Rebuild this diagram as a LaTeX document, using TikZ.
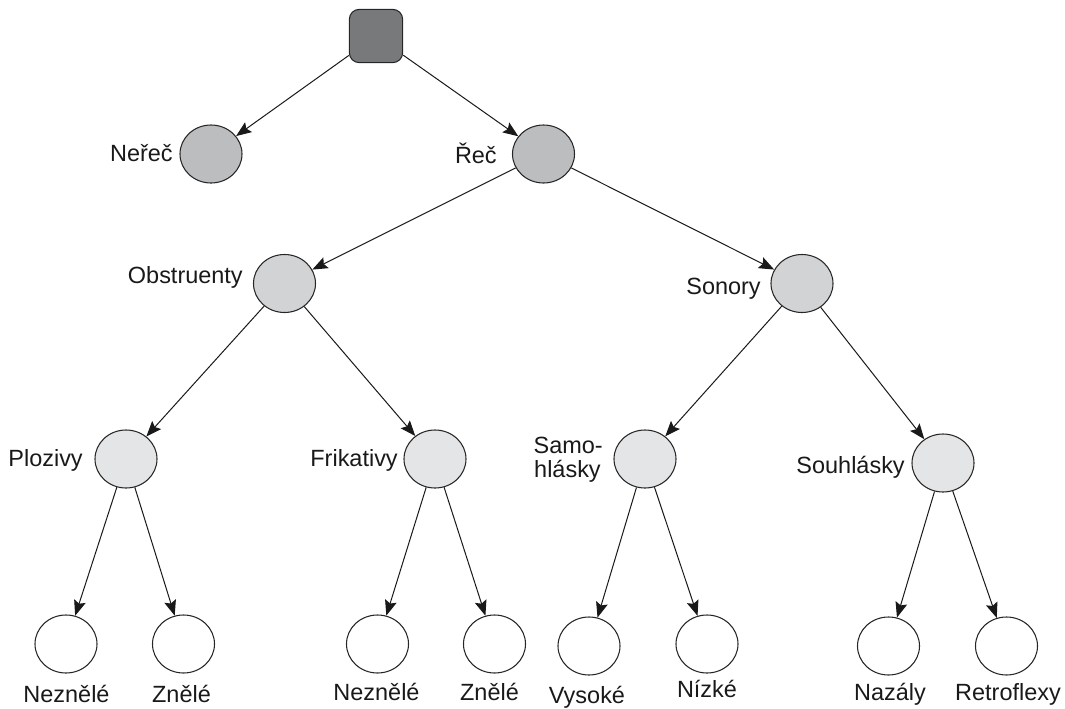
\documentclass[tikz,border=0pt]{standalone}
\usepackage{fontspec}
\setmainfont{Liberation Sans}
\usetikzlibrary{arrows.meta,shapes.geometric}

\definecolor{rootgray}{HTML}{78797B}
\definecolor{levA}{HTML}{BCBDBF}
\definecolor{levB}{HTML}{D2D3D5}
\definecolor{levC}{HTML}{E4E5E6}

\tikzset{
  blob/.style={ellipse, draw=black!85, line width=0.8pt, inner sep=0pt,
               minimum width=46.5pt, minimum height=43.5pt},
  rootbox/.style={rectangle, rounded corners=7.5pt, draw=black!85, line width=0.8pt,
               fill=rootgray, minimum width=40pt, minimum height=40pt, inner sep=0pt},
  lvA/.style={blob, fill=levA},
  lvB/.style={blob, fill=levB},
  lvC/.style={blob, fill=levC},
  leaf/.style={blob, fill=white},
  tag/.style={font=\fontsize{17.6pt}{21pt}\selectfont, text=black!90, inner sep=0pt},
  link/.style={draw=black!90, line width=0.75pt, -{Stealth[length=11.5pt,width=9pt,inset=2pt]}}
}

\begin{document}
\begin{tikzpicture}[x=0.75pt,y=-0.75pt]
\useasboundingbox (0,0) rectangle (1065,708);

% nodes
\node[rootbox] (root) at (376,36) {};
\node[lvA] (nerec) at (211,154) {};
\node[lvA] (rec)   at (543.5,154) {};
\node[lvB] (obs)   at (284.5,283.5) {};
\node[lvB] (son)   at (802,283.5) {};
\node[lvC] (plo)   at (126,459) {};
\node[lvC] (fri)   at (435,459) {};
\node[lvC] (sam)   at (645,459) {};
\node[lvC] (sou)   at (943,463) {};
\node[leaf] (l1) at (66,644) {};
\node[leaf] (l2) at (183.5,644) {};
\node[leaf] (l3) at (377.5,644) {};
\node[leaf] (l4) at (494.5,644) {};
\node[leaf] (l5) at (589,646) {};
\node[leaf] (l6) at (707,644) {};
\node[leaf] (l7) at (888.5,646) {};
\node[leaf] (l8) at (1006.5,646) {};

% labels beside inner nodes
\node[tag, anchor=base east] (tnerec) at (173,161) {Neřeč};
\node[tag, anchor=base east] (trec)   at (497,163) {Řeč};
\node[tag, anchor=base east] (tobs)   at (243,283) {Obstruenty};
\node[tag, anchor=base east] (tson)   at (761,294) {Sonory};
\node[tag, anchor=base east] (tplo)   at (83,466) {Plozivy};
\node[tag, anchor=base east] (tfri)   at (398,466) {Frikativy};
\node[tag, anchor=base east] (tsam1)  at (603,453) {Samo-};
\node[tag, anchor=base east] (tsam2)  at (601,477) {hlásky};
\node[tag, anchor=base east] (tsou)   at (905,473) {Souhlásky};

% labels under leaves
\node[tag, anchor=base] (t1) at (66.5,702) {Neznělé};
\node[tag, anchor=base] (t2) at (181.5,702) {Znělé};
\node[tag, anchor=base] (t3) at (376.5,700) {Neznělé};
\node[tag, anchor=base] (t4) at (489.5,700) {Znělé};
\node[tag, anchor=base] (t5) at (587,703) {Vysoké};
\node[tag, anchor=base] (t6) at (707,697) {Nízké};
\node[tag, anchor=base] (t7) at (890,700) {Nazály};
\node[tag, anchor=base] (t8) at (1008,700) {Retroflexy};

% connectors
\draw[link] (root) -- (nerec);
\draw[link] (root) -- (rec);
\draw[link] (rec) -- (obs);
\draw[link] (rec) -- (son);
\draw[link] (obs) -- (plo);
\draw[link] (obs) -- (fri);
\draw[link] (son) -- (sam);
\draw[link] (son) -- (sou);
\draw[link] (plo) -- (l1);
\draw[link] (plo) -- (l2);
\draw[link] (fri) -- (l3);
\draw[link] (fri) -- (l4);
\draw[link] (sam) -- (l5);
\draw[link] (sam) -- (l6);
\draw[link] (sou) -- (l7);
\draw[link] (sou) -- (l8);
\end{tikzpicture}
\end{document}
